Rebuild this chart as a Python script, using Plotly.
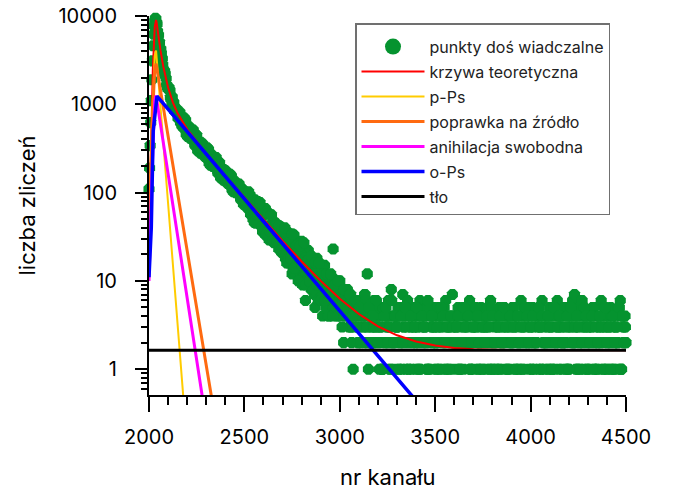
import plotly.graph_objects as go

# ---------------- data ----------------
# measured spectrum: rising edge (fine channels)
rise_ch = [2000, 2003, 2006, 2009, 2012, 2015, 2018, 2021, 2024, 2027, 2030, 2033, 2036]
rise_counts = [110, 190, 340, 620, 1100, 1900, 3100, 4600, 6200, 7700, 8800, 9400, 9300]

# measured spectrum: channels 2040, 2050, ... 4500
main_ch_a = list(range(2040, 4501, 10))
main_counts_a = [
    8380, 6080, 3852, 3293, 2169, 1961, 1490, 1439, 1014, 1037, 833, 789,
    716, 735, 544, 588, 448, 558, 431, 459, 351, 443,
    340, 279, 312, 329, 249, 274, 212, 267, 208, 224,
    172, 217, 169, 138, 155, 164, 124, 137, 106, 134,
    104, 112, 86, 109, 85, 69,
    78, 94, 56, 72, 45, 79, 50, 62, 38, 66, 42, 29, 40, 48, 28, 37, 23, 41, 26,
    27, 37, 16, 27, 12, 33, 16, 24, 10, 28,
    14, 6, 14, 20, 8, 15, 5, 18, 9, 13,
    4, 15, 8, 4, 8,
    11, 5, 8, 4, 10, 5, 2, 7, 8, 4, 3,
    1, 6, 4, 2, 5, 3, 7, 2, 1, 4, 3, 6, 2, 4, 3, 1, 5, 2, 3, 1, 8, 4, 2, 3,
    1, 5, 7, 2, 4, 1, 3, 5, 2, 4,
    1, 6, 3, 2, 4, 1, 5, 3, 2, 1,
    4, 5, 3, 2, 1, 4, 3, 2, 7, 1,
    4, 5, 3, 2, 1, 4, 3, 6, 2, 1,
    3, 4, 2, 5, 1, 3, 4, 2, 6, 1,
    3, 4, 2, 1, 3, 5, 2, 4, 1, 3,
    5, 2, 4, 1, 6, 3, 2, 4, 1, 3,
    5, 2, 4, 1, 3, 6, 2, 4, 1, 5,
    3, 2, 4, 6, 1, 3, 2, 4, 1, 5,
    3, 6, 7, 2, 1, 4, 6, 3, 2, 1,
    4, 3, 5, 2, 1, 4, 6, 3, 2, 1,
    4, 5, 3, 2, 1, 5, 6, 4, 3, 2,
]
# measured spectrum: channels 2045, 2055, ... 4495
main_ch_b = list(range(2045, 4500, 10))
main_counts_b = [
    6722, 4996, 3782, 2492, 2213, 1557, 1539, 1153, 1076, 838, 882, 722,
    617, 692, 698, 459, 513, 413, 500, 383, 453, 298, 361, 309,
    273, 314, 322, 215, 244, 198, 243, 187, 221, 147, 179, 153,
    135, 156, 161, 108, 122, 100, 122, 94, 111, 74, 90, 77,
    64, 87, 50, 83, 63, 45, 62, 36, 60, 40, 59, 33, 42, 27, 45, 30, 37, 21, 31,
    18, 33, 21, 34, 13, 23, 14, 26, 16, 9,
    19, 12, 22, 9, 14, 8, 16, 9, 12, 6,
    14, 8, 11, 4, 8,
    6, 9, 4, 7, 4, 8, 5, 5, 6, 3, 4,
    3, 5, 2, 4, 6, 3, 4, 2, 5, 3, 2, 4, 3, 5, 2, 1, 4, 3, 6, 2, 4, 1, 3, 5,
    2, 4, 3, 1, 6, 2, 3, 4, 1, 3,
    2, 4, 5, 3, 1, 2, 4, 3, 5, 2,
    3, 1, 4, 2, 6, 3, 1, 4, 2, 3,
    2, 1, 4, 5, 3, 2, 4, 1, 3, 5,
    2, 1, 3, 4, 2, 3, 5, 1, 4, 2,
    1, 3, 5, 4, 2, 1, 3, 4, 2, 5,
    3, 4, 1, 2, 3, 5, 4, 2, 3, 1,
    2, 4, 3, 5, 1, 2, 3, 4, 2, 3,
    1, 5, 2, 3, 4, 2, 5, 1, 3, 4,
    2, 4, 3, 1, 5, 2, 3, 4, 1, 3,
    2, 5, 1, 4, 3, 2, 1, 5, 4, 3,
    2, 1, 4, 3, 2, 5, 1, 3, 4,
]
# measured spectrum: channels 2707, 2717, ... 4497
main_ch_c = list(range(2707, 4500, 10))
main_counts_c = [
    22, 30, 19, 28, 17, 26, 15, 22, 13, 20,
    11, 18, 10, 16, 11, 17, 7, 13, 6, 11,
    7, 10, 5, 9, 6, 8, 5, 9, 6, 7,
    5, 8, 4, 6, 3, 7, 5, 4, 6, 3,
    5, 4, 2, 6, 3, 4, 5, 2, 3, 4,
    1, 3, 5, 2, 4, 3, 1, 2, 4, 3,
    4, 2, 1, 3, 5, 2, 4, 1, 3, 2,
    3, 1, 4, 2, 3, 5, 1, 4, 2, 3,
    1, 2, 4, 3, 5, 1, 2, 3, 4, 2,
    3, 4, 1, 2, 3, 4, 5, 2, 1, 3,
    4, 3, 1, 2, 3, 4, 1, 3, 2, 5,
    2, 4, 3, 1, 2, 3, 4, 1, 3, 2,
    4, 1, 3, 2, 4, 1, 2, 3, 5, 2,
    1, 3, 2, 4, 3, 1, 4, 2, 3, 1,
    2, 4, 1, 3, 2, 4, 3, 5, 2, 1,
    3, 4, 2, 1, 3, 2, 4, 1, 3, 2,
    1, 3, 4, 2, 1, 3, 2, 4, 3, 1,
    3, 2, 4, 1, 3, 2, 4, 1, 2, 3,
]
# measured spectrum: channels 2042, 2052, ... 4492
main_ch_d = list(range(2042, 4500, 10))
main_counts_d = [
    8110, 5130, 4230, 2810, 2385, 1665, 1545, 1194, 1210, 926, 877, 698,
    814, 571, 597, 665, 433, 528, 413, 512, 340, 390, 330, 371,
    355, 256, 274, 310, 204, 252, 199, 250, 166, 171, 163, 183,
    176, 127, 137, 155, 102, 127, 100, 125, 83, 96, 82, 92,
    102, 57, 77, 46, 77, 55, 77, 41, 56, 33, 57, 37, 56, 28, 42, 28, 42, 22, 33,
    40, 16, 27, 18, 34, 14, 25, 10, 25, 15,
    27, 9, 17, 10, 19, 8, 16, 9, 16, 6,
    12, 6, 12, 7, 12, 4, 9, 5, 10,
    6, 3, 8, 4, 5, 7, 2, 4, 6, 3,
    5, 2, 4, 7, 3, 5, 2, 4, 3, 6,
    2, 3, 1, 4, 5, 2, 3, 6, 2, 4,
    3, 1, 4, 2, 5, 3, 1, 4, 2, 3,
    5, 2, 1, 4, 3, 2, 6, 1, 4, 3,
    2, 3, 1, 5, 4, 2, 3, 1, 4, 3,
    2, 3, 4, 1, 2, 5, 3, 4, 1, 2,
    3, 5, 4, 2, 1, 3, 2, 4, 3, 1,
    4, 2, 1, 3, 4, 2, 5, 3, 1, 4,
    2, 3, 1, 4, 2, 3, 1, 5, 4, 2,
    3, 4, 1, 2, 5, 3, 4, 1, 2, 4,
    3, 1, 5, 2, 3, 4, 1, 2, 3, 4,
    1, 5, 2, 3, 4, 3, 1, 2, 5, 4,
    3, 2, 4, 1, 3, 2, 4, 3, 1, 5,
    2, 3, 1, 4, 2, 3, 5, 1, 4, 2,
]
# isolated outliers
extra_ch = [2965, 3144]
extra_counts = [23, 12]

# theoretical curve
red_ch = [2000, 2010, 2020, 2030, 2037, 2040, 2050, 2060, 2075, 2100, 2125, 2150, 2200,
          2250, 2300, 2400, 2500, 2600, 2700, 2800, 2900, 3000, 3100, 3200, 3300,
          3400, 3500, 3600, 3700, 3800, 4000, 4500]
red_val = [30, 250, 2500, 7500, 9000, 8380, 5736, 4098, 2670, 1552, 1053, 789, 521,
           375, 277, 155, 87.3, 49.5, 28.4, 16.6, 10.0, 6.28, 4.21, 3.06, 2.42,
           2.06, 1.86, 1.74, 1.68, 1.66, 1.645, 1.64]

# components
pps_ch = [2000, 2015, 2030, 2037, 2180]
pps_val = [40, 600, 3500, 4070, 0.48]

src_ch = [2000, 2015, 2030, 2037, 2328]
src_val = [30, 500, 2500, 2880, 0.48]

ann_ch = [2000, 2015, 2030, 2037, 2280]
ann_val = [10, 150, 1100, 1260, 0.48]

ops_ch = [2000, 2012, 2022, 2037, 2042, 3385]
ops_val = [11, 40, 500, 1200, 1235, 0.48]

bg_ch = [2000, 4500]
bg_val = [1.64, 1.64]

names = ["punkty doś wiadczalne", "krzywa teoretyczna", "p-Ps",
         "poprawka na źródło", "anihilacja swobodna", "o-Ps", "tło"]

x_title = "nr kanału"
y_title = "liczba zliczeń"
x_tick_vals = [2000, 2500, 3000, 3500, 4000, 4500]
y_tick_vals = [1, 10, 100, 1000, 10000]
y_tick_text = ["1", "10", "100", "1000", "10000"]

# ---------------- figure ----------------
FONT = "Inter"
GREEN = "#05932f"

fig = go.Figure()

pts_x = rise_ch + main_ch_a + main_ch_b + main_ch_c + main_ch_d + extra_ch
pts_y = rise_counts + main_counts_a + main_counts_b + main_counts_c + main_counts_d + extra_counts

fig.add_trace(go.Scatter(
    x=pts_x, y=pts_y, mode="markers", showlegend=False,
    marker=dict(color=GREEN, size=12, symbol="octagon", line=dict(width=0)),
    cliponaxis=False, hoverinfo="skip"))
# legend entry for the points (bigger symbol)
fig.add_trace(go.Scatter(
    x=[None], y=[None], mode="markers", name=names[0], legendgroup="g0",
    marker=dict(color=GREEN, size=18)))

line_specs = [
    (red_ch, red_val, names[1], "#ff0000", 2),
    (pps_ch, pps_val, names[2], "#ffcc00", 2),
    (src_ch, src_val, names[3], "#ff6a10", 3),
    (ann_ch, ann_val, names[4], "#ff00ff", 3),
    (ops_ch, ops_val, names[5], "#0000ff", 3.5),
    (bg_ch, bg_val, names[6], "#000000", 3),
]
for i, (xs, ys, nm, col, w) in enumerate(line_specs):
    fig.add_trace(go.Scatter(x=xs, y=ys, mode="lines", name=nm,
                             legendgroup="g%d" % (i + 1),
                             line=dict(color=col, width=w)))

minor_y = [m * 10 ** d for d in range(-1, 4) for m in range(2, 10)]

fig.update_layout(
    width=675, height=490,
    margin=dict(l=149, r=49, t=16, b=95, autoexpand=False),
    paper_bgcolor="white", plot_bgcolor="white",
    font=dict(family=FONT, color="black"),
    legend=dict(
        x=(355 - 149) / 477, y=(395 - 23) / 379,
        xanchor="left", yanchor="top",
        bgcolor="white", bordercolor="#707070", borderwidth=1.5,
        font=dict(family=FONT, size=16, color="#222"),
        itemwidth=63, tracegroupgap=1.2,
        title=dict(text=" ", font=dict(size=4)),
    ),
    xaxis=dict(
        range=[2000, 4500], showgrid=False, zeroline=False, automargin=False,
        showline=True, linecolor="black", linewidth=2,
        ticks="outside", ticklen=15, tickwidth=2, tickcolor="black",
        tickvals=x_tick_vals, ticklabelstandoff=8,
        tickfont=dict(family=FONT, size=20),
        minor=dict(ticks="outside", ticklen=8, tickwidth=2, tickcolor="black",
                   dtick=100, showgrid=False),
    ),
    yaxis=dict(
        type="log", range=[-0.2924, 4.0], showgrid=False, zeroline=False, automargin=False,
        showline=True, linecolor="black", linewidth=2,
        ticks="outside", ticklen=12, tickwidth=2, tickcolor="black",
        tickvals=y_tick_vals, ticktext=y_tick_text, ticklabelstandoff=14,
        tickfont=dict(family=FONT, size=20),
        minor=dict(ticks="outside", ticklen=6, tickwidth=1.5, tickcolor="black",
                   tickvals=minor_y, showgrid=False),
        title=dict(text=y_title, font=dict(family=FONT, size=22), standoff=17),
    ),
    annotations=[dict(
        text=x_title, xref="paper", yref="paper", x=0.5, y=(395 - 477) / 379,
        xanchor="center", yanchor="middle", showarrow=False,
        font=dict(family=FONT, size=22, color="black"),
    )],
)

fig.write_html("out.html")
